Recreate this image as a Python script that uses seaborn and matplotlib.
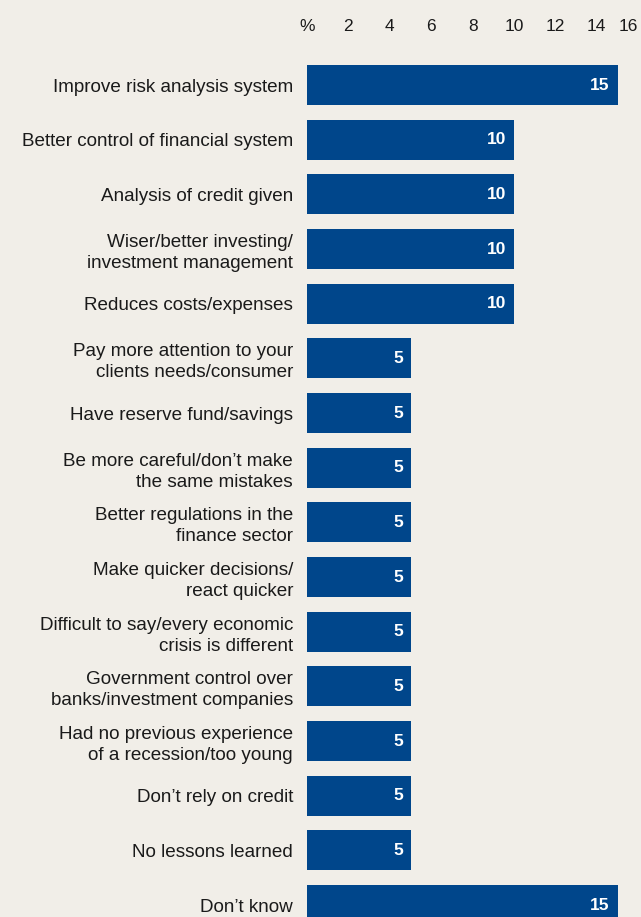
import matplotlib
matplotlib.use("Agg")
import matplotlib.pyplot as plt
import seaborn as sns
import pandas as pd

categories = [
    "Improve risk analysis system",
    "Better control of financial system",
    "Analysis of credit given",
    "Wiser/better investing/\ninvestment management",
    "Reduces costs/expenses",
    "Pay more attention to your\nclients needs/consumer",
    "Have reserve fund/savings",
    "Be more careful/don\u2019t make\nthe same mistakes",
    "Better regulations in the\nfinance sector",
    "Make quicker decisions/\nreact quicker",
    "Difficult to say/every economic\ncrisis is different",
    "Government control over\nbanks/investment companies",
    "Had no previous experience\nof a recession/too young",
    "Don\u2019t rely on credit",
    "No lessons learned",
    "Don\u2019t know",
]
values = [15, 10, 10, 10, 10, 5, 5, 5, 5, 5, 5, 5, 5, 5, 5, 15]
tick_values = [0, 2, 4, 6, 8, 10, 12, 14, 16]
tick_labels = ["%", "2", "4", "6", "8", "10", "12", "14", "16"]

BG = "#f1eee8"
BAR = "#00468b"
TEXT = "#1a1a1a"

sns.set_theme(style="white")
plt.rcParams["font.family"] = ["Liberation Sans", "DejaVu Sans"]

df = pd.DataFrame({"reason": categories, "share": values})

fig = plt.figure(figsize=(6.41, 9.17), dpi=100, facecolor=BG)
W, H = 641, 917
# axes: x from 0 at px 307 to right edge; y rows pitched ~54.7px
left_px, right_px = 307, 641
top_px, bottom_px = 45, 917
ax = fig.add_axes([left_px / W, 1 - bottom_px / H, (right_px - left_px) / W, (bottom_px - top_px) / H])
ax.set_facecolor(BG)

sns.barplot(data=df, x="share", y="reason", orient="h", color=BAR,
            saturation=1, width=0.73, ax=ax, edgecolor="none")

pitch = 54.67
row0 = 85
ax.set_ylim((bottom_px - row0) / pitch, (top_px - row0) / pitch)
ax.set_xlim(0, (right_px - left_px) / 20.7)

for i, v in enumerate(values):
    ax.annotate(f"{v}", xy=(v, i), xytext=(-5.5, 0), textcoords="offset points",
                ha="right", va="center", color="white", fontsize=12.5,
                fontweight="bold")

ax.xaxis.tick_top()
ax.set_xticks(tick_values)
ax.set_xticklabels(tick_labels)
ax.tick_params(axis="x", length=0, pad=8, labelsize=12.5, colors=TEXT)
ax.get_xticklabels()[-1].set_horizontalalignment("right")
ax.tick_params(axis="y", length=0, pad=10, labelsize=13.6, colors=TEXT)
for lbl in ax.get_yticklabels():
    lbl.set_linespacing(1.3)
    lbl.set_horizontalalignment("right")
ax.set_xlabel("")
ax.set_ylabel("")
for s in ax.spines.values():
    s.set_visible(False)

fig.savefig("out.png", dpi=100, facecolor=BG)
